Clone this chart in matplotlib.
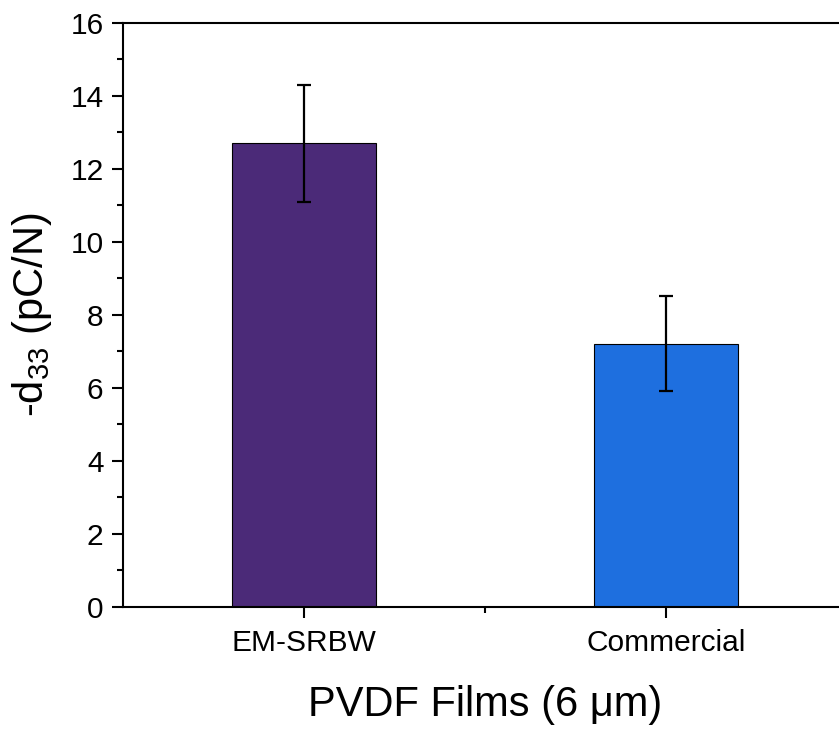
import matplotlib
matplotlib.use("Agg")
import matplotlib.pyplot as plt
from matplotlib.ticker import MultipleLocator, FixedLocator

plt.rcParams['font.family'] = ['Liberation Sans', 'DejaVu Sans']
plt.rcParams['mathtext.fontset'] = 'custom'
plt.rcParams['mathtext.rm'] = 'Liberation Sans'
plt.rcParams['mathtext.it'] = 'Liberation Sans:italic'

categories = ["EM-SRBW", "Commercial"]
values = [12.7, 7.2]
errors = [1.6, 1.3]
colors = ["#4B2A78", "#1E6FDF"]

fig = plt.figure(figsize=(8.39, 7.32), dpi=100)
ax = fig.add_axes([123/839, 1 - 606.7/732, (847-123)/839, (606.7-22.7)/732])

x = list(range(1, len(categories) + 1))
ax.bar(x, values, width=0.4, color=colors, edgecolor='black', linewidth=0.8,
       yerr=errors, capsize=4.7,
       error_kw=dict(ecolor='black', elinewidth=1.6, capthick=1.6))

ax.set_xlim(0.5, 2.5)
ax.set_ylim(0, 16)
ax.set_xticks(x)
ax.set_xticklabels(categories)
ax.xaxis.set_minor_locator(FixedLocator([1.5]))
ax.yaxis.set_major_locator(MultipleLocator(2))
ax.yaxis.set_minor_locator(MultipleLocator(1))

for sp in ax.spines.values():
    sp.set_linewidth(1.5)

ax.tick_params(axis='both', which='major', direction='out', length=8, width=1.5,
               labelsize=21.5, pad=6)
ax.tick_params(axis='x', which='major', pad=8)
ax.tick_params(axis='both', which='minor', direction='out', length=4.5, width=1.5)

ax.set_xlabel("PVDF Films (6 μm)", fontsize=30, labelpad=20)
ax.set_ylabel(r"-d$_{\mathregular{33}}$ (pC/N)", fontsize=30, labelpad=12)

fig.savefig("out.png", dpi=100)
